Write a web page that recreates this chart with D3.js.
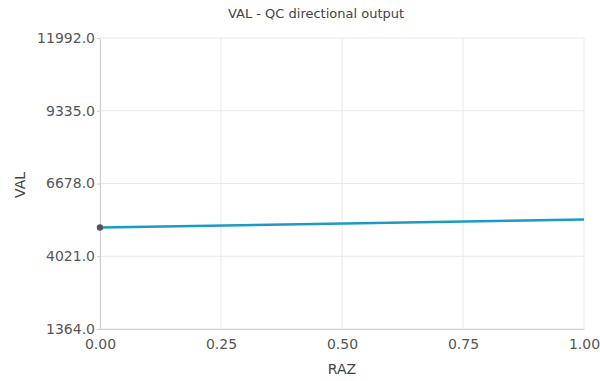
<!DOCTYPE html>
<html><head><meta charset="utf-8">
<script src="https://cdn.jsdelivr.net/npm/d3@7/dist/d3.min.js"></script>
<style>body{margin:0;background:#fff}svg{display:block}</style>
</head><body>
<svg id="c" width="600" height="381"></svg>
<script>
const title = "VAL - QC directional output";
const xLabel = "RAZ";
const yLabel = "VAL";
const xTicks = [0, 0.25, 0.5, 0.75, 1.0];
const yTicks = [1364.0, 4021.0, 6678.0, 9335.0, 11992.0];
const raz = [0, 1];
const val = [5071, 5363];

const svg = d3.select("#c");
const m = {l:100, r:16, t:38, b:52};
const W = 600, H = 381;
const x = d3.scaleLinear().domain([0,1]).range([m.l, W-m.r]);
const y = d3.scaleLinear().domain([1364, 11992]).range([H-m.b, m.t]);
const font = "DejaVu Sans, Verdana, sans-serif";

// grid
svg.append("g").selectAll("line").data(yTicks).join("line")
  .attr("x1", x(0)).attr("x2", x(1)).attr("y1", d=>y(d)).attr("y2", d=>y(d))
  .attr("stroke", "#e8e8e8").attr("stroke-width", 1);
svg.append("g").selectAll("line").data(xTicks).join("line")
  .attr("y1", y(1364)).attr("y2", y(11992)).attr("x1", d=>x(d)).attr("x2", d=>x(d))
  .attr("stroke", "#e8e8e8").attr("stroke-width", 1);

// axes
const yAxis = d3.axisLeft(y).tickValues(yTicks).tickFormat(d3.format(".1f")).tickSize(3).tickPadding(2);
const gy = svg.append("g").attr("transform", `translate(${m.l},0)`).call(yAxis);
const xAxis = d3.axisBottom(x).tickValues(xTicks).tickFormat(d3.format(".2f")).tickSize(0).tickPadding(10);
const gx = svg.append("g").attr("transform", `translate(0,${H-m.b})`).call(xAxis);
[gx, gy].forEach(g => {
  g.select(".domain").attr("stroke", "#d0d0d0");
  g.selectAll(".tick line").attr("stroke", "#d0d0d0");
  g.selectAll(".tick text").attr("fill", "#555").style("font-family", font).style("font-size", "14px");
});

// line
svg.append("path").datum(raz.map((r,i)=>[r,val[i]]))
  .attr("d", d3.line().x(d=>x(d[0])).y(d=>y(d[1])))
  .attr("fill", "none").attr("stroke", "#1b9ac4").attr("stroke-width", 2.5);
svg.append("circle").attr("cx", x(raz[0])).attr("cy", y(val[0])).attr("r", 3.2).attr("fill", "#555");

// labels
svg.append("text").attr("x", 316).attr("y", 18).attr("text-anchor", "middle")
  .style("font-family", font).style("font-size", "13px").attr("fill", "#444").text(title);
svg.append("text").attr("x", (x(0)+x(1))/2).attr("y", 374).attr("text-anchor", "middle")
  .style("font-family", font).style("font-size", "14px").attr("fill", "#444").text(xLabel);
svg.append("text").attr("transform", "translate(25,185) rotate(-90)").attr("text-anchor", "middle")
  .style("font-family", font).style("font-size", "14px").attr("fill", "#444").text(yLabel);
</script>
</body></html>
